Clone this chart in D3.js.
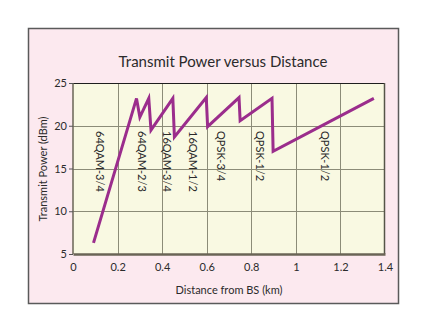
<!DOCTYPE html>
<html>
<head>
<meta charset="utf-8">
<script src="https://cdn.jsdelivr.net/npm/d3@7"></script>
<style>
  html, body { margin: 0; padding: 0; background: #ffffff; }
  svg { display: block; }
  text { font-family: Lato, "Open Sans", "Noto Sans", sans-serif; fill: #2b2b2b; }
</style>
</head>
<body>
<svg id="chart" width="448" height="335"></svg>
<script>
// Transmit power needed at each distance, per modulation/coding region
const distanceKm = [0.092, 0.285, 0.300, 0.340, 0.350, 0.448, 0.455, 0.598, 0.604, 0.745, 0.750, 0.893, 0.898, 1.350];
const powerDbm   = [6.3,   23.2,  21.0,  23.2,  19.5,  23.2,  18.7,  23.3,  19.9,  23.3,  20.6,  23.2,  17.0,  23.2];

// Modulation scheme labels and where they sit along the distance axis
const schemeLabels = ["64QAM-3/4", "64QAM-2/3", "16QAM-3/4", "16QAM-1/2", "QPSK-3/4", "QPSK-1/2", "QPSK-1/2"];
const schemeLabelX = [0.122, 0.308, 0.420, 0.540, 0.665, 0.838, 1.130];

const xTicks = [0, 0.2, 0.4, 0.6, 0.8, 1, 1.2, 1.4];
const yTicks = [5, 10, 15, 20, 25];

const svg = d3.select("#chart");

// outer panel
svg.append("rect")
  .attr("x", 28.5).attr("y", 28.5)
  .attr("width", 370).attr("height", 275)
  .attr("fill", "#fce9ef")
  .attr("stroke", "#5a5a5a").attr("stroke-width", 1.5);

const x = d3.scaleLinear().domain([0, 1.4]).range([73, 385]);
const y = d3.scaleLinear().domain([5, 25]).range([254, 83]);

// plot background
svg.append("rect")
  .attr("x", x(0)).attr("y", y(25))
  .attr("width", x(1.4) - x(0)).attr("height", y(5) - y(25))
  .attr("fill", "#f9f9e2");

// grid
const grid = svg.append("g").attr("stroke", "#8c8c78").attr("stroke-width", 1);
grid.selectAll("line.v").data(xTicks.slice(1, -1)).join("line")
  .attr("x1", d => Math.round(x(d)) + 0.5).attr("x2", d => Math.round(x(d)) + 0.5)
  .attr("y1", y(25)).attr("y2", y(5));
grid.selectAll("line.h").data(yTicks.slice(1, -1)).join("line")
  .attr("y1", d => Math.round(y(d)) + 0.5).attr("y2", d => Math.round(y(d)) + 0.5)
  .attr("x1", x(0)).attr("x2", x(1.4));

// plot frame
svg.append("line").attr("x1", x(0)).attr("x2", x(1.4)).attr("y1", y(25) + 0.5).attr("y2", y(25) + 0.5)
  .attr("stroke", "#1e1e1e").attr("stroke-width", 1);
svg.append("line").attr("x1", x(1.4) - 0.5).attr("x2", x(1.4) - 0.5).attr("y1", y(25)).attr("y2", y(5))
  .attr("stroke", "#555548").attr("stroke-width", 1.5);
svg.append("line").attr("x1", x(0)).attr("x2", x(0)).attr("y1", y(25)).attr("y2", y(5))
  .attr("stroke", "#6a6456").attr("stroke-width", 1.5);

// axes
const xAxis = d3.axisBottom(x).tickValues(xTicks).tickFormat(d3.format("~g")).tickSize(0).tickPadding(9);
const gx = svg.append("g").attr("transform", `translate(0,${y(5)})`).call(xAxis);
gx.select(".domain").attr("stroke", "#6a6456").attr("stroke-width", 2.5);
gx.selectAll("text").attr("font-size", 11).style("font-family", "Lato, 'Open Sans', sans-serif").attr("fill", "#2b2b2b");

const yAxis = d3.axisLeft(y).tickValues(yTicks).tickSize(4).tickPadding(2);
const gy = svg.append("g").attr("transform", `translate(${x(0)},0)`).call(yAxis);
gy.select(".domain").remove();
gy.selectAll("line").attr("stroke", "#555");
gy.selectAll("text").attr("font-size", 11).style("font-family", "Lato, 'Open Sans', sans-serif").attr("fill", "#2b2b2b");

// transmit power curve
const line = d3.line().x((d, i) => x(distanceKm[i])).y(d => y(d));
svg.append("path")
  .datum(powerDbm)
  .attr("d", line)
  .attr("fill", "none")
  .attr("stroke", "#9b2d8c")
  .attr("stroke-width", 3)
  .attr("stroke-linejoin", "miter");

// scheme labels (vertical)
svg.append("g").selectAll("text").data(schemeLabels).join("text")
  .attr("transform", (d, i) => `translate(${x(schemeLabelX[i])},131) rotate(90)`)
  .attr("dy", "0.35em")
  .attr("font-size", 11)
  .text(d => d);

// title and axis titles
svg.append("text")
  .attr("x", 223).attr("y", 67)
  .attr("text-anchor", "middle")
  .attr("font-size", 15)
  .text("Transmit Power versus Distance");

svg.append("text")
  .attr("x", 229).attr("y", 294)
  .attr("text-anchor", "middle")
  .attr("font-size", 11)
  .text("Distance from BS (km)");

svg.append("text")
  .attr("transform", "translate(47,169) rotate(-90)")
  .attr("text-anchor", "middle")
  .attr("font-size", 11)
  .text("Transmit Power (dBm)");
</script>
</body>
</html>
